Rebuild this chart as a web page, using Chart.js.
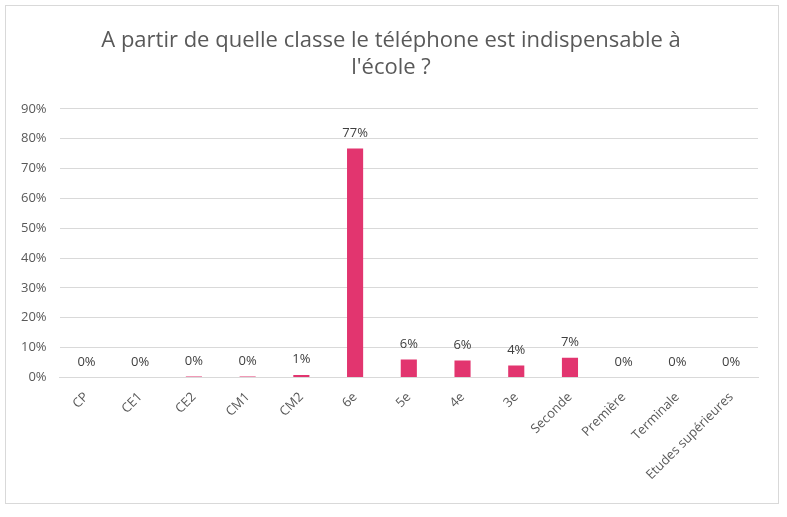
<!DOCTYPE html>
<html><head><meta charset="utf-8">
<script src="https://cdn.jsdelivr.net/npm/chart.js@4"></script>
<style>
html,body{margin:0;padding:0;background:#fff;}
#wrap{position:absolute;left:5px;top:5px;width:774px;height:499px;border:1px solid #d9d9d9;box-sizing:border-box;}
</style></head><body>
<div id="wrap"><canvas id="c"></canvas></div>
<script>
const categories = ["CP","CE1","CE2","CM1","CM2","6e","5e","4e","3e","Seconde","Première","Terminale","Etudes supérieures"];
const values = [0, 0, 0.3, 0.3, 0.8, 76.7, 6.0, 5.7, 4.0, 6.6, 0, 0, 0];
const yTicks = [0,10,20,30,40,50,60,70,80,90];

const labelPlugin = {
  id:'lbl',
  afterLayout(chart){
    const t = chart.titleBlock;
    if (t) { t.left += 8; t.right += 8; }
  },
  afterDatasetsDraw(chart){
    const ctx = chart.ctx;
    const meta = chart.getDatasetMeta(0);
    ctx.save();
    ctx.font = '13px "Open Sans", Lato, sans-serif';
    ctx.fillStyle = '#404040';
    ctx.textAlign = 'center';
    ctx.textBaseline = 'bottom';
    meta.data.forEach((bar,i)=>{
      ctx.fillText(Math.round(values[i]) + '%', bar.x, bar.y - 9);
    });
    ctx.restore();
  }
};

new Chart(document.getElementById('c'), {
  type:'bar',
  data:{labels:categories, datasets:[{data:values, backgroundColor:'#E2356F', barPercentage:0.3, categoryPercentage:1}]},
  options:{
    responsive:true, maintainAspectRatio:false, animation:false,
    layout:{padding:{left:2,right:20,top:16,bottom:16}},
    plugins:{
      legend:{display:false}, tooltip:{enabled:false},
      title:{display:true, text:["A partir de quelle classe le téléphone est indispensable à","l'école ?"],
        color:'#595959', font:{family:'"Open Sans", Lato, sans-serif', size:22, weight:'normal'}, padding:{top:6,bottom:28}, lineHeight:1.3}
    },
    scales:{
      y:{min:0,max:90, afterBuildTicks(s){s.ticks = yTicks.map(v=>({value:v}));},
        ticks:{callback:v=>v+'%', color:'#595959', font:{family:'"Open Sans", Lato, sans-serif', size:13}, padding:13},
        grid:{color:'#d9d9d9', drawTicks:false}, border:{display:false}},
      x:{ticks:{color:'#595959', font:{family:'"Open Sans", Lato, sans-serif', size:13}, minRotation:45, maxRotation:45, padding:4},
        grid:{display:false}, border:{color:'#d9d9d9'}}
    }
  },
  plugins:[labelPlugin]
});
</script></body></html>
